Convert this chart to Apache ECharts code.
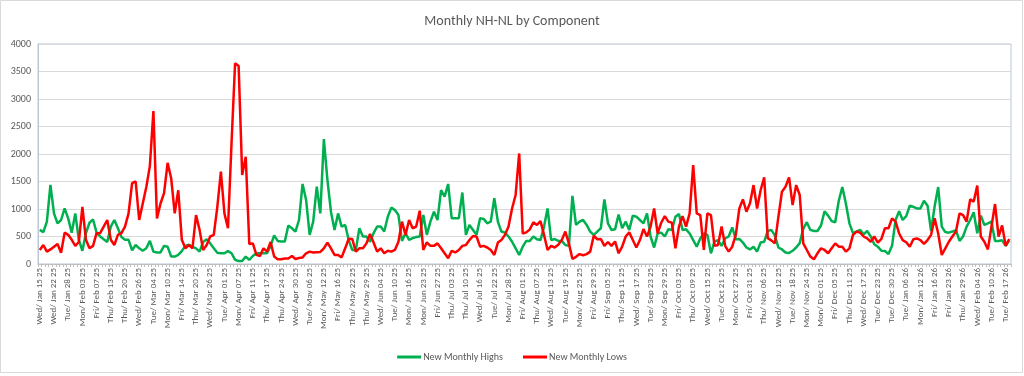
<!DOCTYPE html>
<html>
<head>
<meta charset="utf-8">
<script src="https://cdn.jsdelivr.net/npm/echarts@6/dist/echarts.min.js"></script>
<style>
  html, body { margin: 0; padding: 0; background: #fff; }
  #chart { width: 1024px; height: 376px; }
</style>
</head>
<body>
<div id="chart"></div>
<script>
// trading days shown on the category axis, by month
const tradingDays = [
  ["2025-01", [15,16,17,21,22,23,24,27,28,29,30,31]],
  ["2025-02", [3,4,5,6,7,10,11,12,13,14,18,19,20,21,24,25,26,27,28]],
  ["2025-03", [3,4,5,6,7,10,11,12,13,14,17,18,19,20,21,24,25,26,27,28,31]],
  ["2025-04", [1,2,3,4,7,8,9,10,11,14,15,16,17,21,22,23,24,25,28,29,30]],
  ["2025-05", [1,2,5,6,7,8,9,12,13,14,15,16,19,20,21,22,23,27,28,29,30]],
  ["2025-06", [2,3,4,5,6,9,10,11,12,13,16,17,18,20,23,24,25,26,27,30]],
  ["2025-07", [1,2,3,7,8,9,10,11,14,15,16,17,18,21,22,23,24,25,28,29,30,31]],
  ["2025-08", [1,4,5,6,7,8,11,12,13,14,15,18,19,20,21,22,25,26,27,28,29]],
  ["2025-09", [2,3,4,5,8,9,10,11,12,15,16,17,18,19,22,23,24,25,26,29,30]],
  ["2025-10", [1,2,3,6,7,8,9,10,13,14,15,16,17,20,21,22,23,24,27,28,29,30,31]],
  ["2025-11", [3,4,5,6,7,10,11,12,13,14,17,18,19,20,21,24,25,26,28]],
  ["2025-12", [1,2,3,4,5,8,9,10,11,12,15,16,17,18,19,22,23,24,26,29,30,31]],
  ["2026-01", [2,5,6,7,8,9,12,13,14,15,16,20,21,22,23,26,27,28,29,30]],
  ["2026-02", [2,3,4,5,6,9,10,11,12,13,17,18]]
];

const newHighs = [
  620, 580, 770, 1440, 920, 740, 800, 1010, 830, 570,
  920, 440, 240, 560, 750, 810, 570, 500, 450, 400,
  680, 800, 650, 490, 440, 440, 250, 345, 285, 240,
  285, 420, 225, 210, 210, 330, 315, 135, 135, 165,
  235, 330, 350, 315, 285, 225, 400, 450, 375, 285,
  205, 195, 195, 235, 195, 75, 55, 55, 135, 75,
  145, 195, 195, 195, 195, 330, 520, 420, 410, 410,
  700, 650, 590, 800, 1455, 1165, 530, 770, 1405, 920,
  2270, 1530, 950, 620, 920, 680, 710, 435, 255, 255,
  650, 500, 500, 405, 560, 680, 680, 590, 860, 1025,
  980, 890, 420, 560, 440, 470, 490, 500, 890, 530,
  770, 950, 800, 1345, 1225, 1455, 830, 830, 830, 1300,
  530, 710, 620, 530, 830, 820, 740, 770, 1195, 770,
  590, 570, 500, 405, 285, 165, 315, 420, 420, 500,
  450, 435, 680, 1010, 435, 455, 420, 420, 345, 330,
  1240, 710, 770, 800, 710, 590, 530, 590, 650, 1175,
  740, 620, 630, 900, 650, 770, 620, 880, 860, 800,
  740, 920, 500, 300, 555, 570, 500, 630, 620, 860,
  910, 620, 630, 555, 435, 315, 465, 555, 530, 195,
  405, 435, 330, 465, 500, 665, 450, 455, 390, 300,
  265, 315, 225, 390, 405, 600, 620, 520, 300, 265,
  210, 200, 240, 300, 380, 640, 760, 620, 600, 600,
  700, 960, 880, 780, 760, 1150, 1400, 1100, 740, 560,
  590, 620, 540, 600, 500, 360, 315, 240, 235, 180,
  330, 800, 960, 800, 870, 1060, 1040, 1010, 1010, 1150,
  1060, 600, 1050, 1400, 680, 580, 570, 590, 615, 420,
  500, 680, 800, 940, 560, 880, 710, 740, 770, 420,
  420, 430, 330, 425
];

const newLows = [
  255, 345, 225, 265, 315, 365, 205, 570, 530, 440,
  330, 400, 1040, 440, 285, 330, 560, 560, 680, 800,
  440, 345, 530, 560, 680, 920, 1470, 1500, 800, 1100,
  1400, 1780, 2780, 830, 1100, 1290, 1840, 1560, 920, 1340,
  440, 285, 345, 285, 890, 620, 255, 345, 500, 530,
  1040, 1680, 920, 650, 2200, 3650, 3600, 1620, 1950, 365,
  375, 165, 145, 285, 225, 400, 135, 85, 85, 100,
  100, 145, 90, 110, 120, 195, 225, 210, 215, 220,
  285, 390, 285, 165, 165, 120, 285, 460, 455, 225,
  285, 285, 375, 545, 390, 225, 285, 195, 240, 225,
  255, 405, 770, 530, 800, 650, 680, 970, 255, 395,
  330, 330, 375, 285, 195, 105, 240, 210, 255, 330,
  345, 435, 510, 500, 315, 330, 300, 255, 165, 390,
  435, 530, 680, 1010, 1255, 2010, 555, 575, 630, 760,
  710, 780, 530, 255, 330, 300, 350, 435, 590, 375,
  90, 130, 180, 160, 180, 225, 515, 450, 455, 330,
  400, 330, 410, 195, 315, 500, 575, 435, 300, 435,
  635, 500, 680, 1010, 555, 750, 870, 770, 750, 285,
  680, 870, 680, 920, 1800, 920, 890, 255, 920, 890,
  330, 345, 680, 330, 225, 315, 530, 1010, 1175, 950,
  1105, 1435, 1010, 1345, 1575, 470, 430, 375, 860, 1315,
  1405, 1575, 1070, 1435, 1255, 375, 255, 135, 85, 195,
  285, 255, 195, 285, 375, 315, 315, 225, 285, 530,
  590, 570, 500, 465, 405, 500, 390, 455, 650, 650,
  830, 770, 555, 435, 395, 315, 450, 465, 435, 365,
  435, 530, 830, 555, 165, 285, 405, 500, 590, 920,
  890, 770, 1175, 1135, 1425, 500, 405, 265, 680, 1090,
  500, 700, 330, 455
];

const yTicks = [0, 500, 1000, 1500, 2000, 2500, 3000, 3500, 4000];

const dayNames = ["Sun", "Mon", "Tue", "Wed", "Thu", "Fri", "Sat"];
const monNames = ["Jan", "Feb", "Mar", "Apr", "May", "Jun", "Jul", "Aug", "Sep", "Oct", "Nov", "Dec"];

const categories = [];
tradingDays.forEach(([ym, days]) => {
  const [y, m] = ym.split("-").map(Number);
  days.forEach((d) => {
    const dt = new Date(Date.UTC(y, m - 1, d));
    const dd = String(d).padStart(2, "0");
    categories.push(dayNames[dt.getUTCDay()] + "/ " + monNames[m - 1] + " " + dd + " " + String(y).slice(2));
  });
});

const chart = echarts.init(document.getElementById("chart"));
const font = "Calibri, Carlito, 'Liberation Sans', Arial, sans-serif";

chart.setOption({
  animation: false,
  backgroundColor: "#fff",
  textStyle: { fontFamily: font },
  title: {
    text: "Monthly NH-NL by Component",
    left: "center",
    top: 9,
    textStyle: { fontSize: 14, fontWeight: "normal", color: "#595959", fontFamily: font }
  },
  legend: {
    bottom: 9,
    left: "center",
    icon: "rect",
    itemWidth: 24,
    itemHeight: 3,
    itemGap: 20,
    textStyle: { fontSize: 10, color: "#595959", padding: [0, 0, 0, -3] },
    data: ["New Monthly Highs", "New Monthly Lows"]
  },
  graphic: [{
    type: "rect",
    shape: { x: 0.5, y: 0.5, width: 1022, height: 372 },
    style: { fill: "none", stroke: "#d9d9d9", lineWidth: 1 },
    silent: true
  }],
  grid: {
    left: 38,
    right: 13,
    top: 44,
    bottom: 112,
    show: true,
    borderColor: "#b9c7d8",
    borderWidth: 1
  },
  xAxis: {
    type: "category",
    data: categories,
    boundaryGap: true,
    axisLine: { lineStyle: { color: "#bfbfbf" } },
    axisTick: { show: true, interval: 0, length: 3, lineStyle: { color: "#bfbfbf" } },
    axisLabel: { interval: 3, rotate: 90, fontSize: 9, color: "#595959", margin: 4 }
  },
  yAxis: {
    type: "value",
    min: yTicks[0],
    max: yTicks[yTicks.length - 1],
    interval: 500,
    axisLine: { show: true, lineStyle: { color: "#b9c7d8" } },
    axisTick: { show: false },
    splitLine: { lineStyle: { color: "#d9d9d9" } },
    axisLabel: { fontSize: 10, color: "#595959", margin: 7, formatter: (v) => String(v) }
  },
  series: [
    {
      name: "New Monthly Highs",
      type: "line",
      data: newHighs,
      symbol: "none",
      lineStyle: { color: "#00b050", width: 2.5 },
      itemStyle: { color: "#00b050" }
    },
    {
      name: "New Monthly Lows",
      type: "line",
      data: newLows,
      symbol: "none",
      lineStyle: { color: "#ff0000", width: 2.5 },
      itemStyle: { color: "#ff0000" }
    }
  ]
});
</script>
</body>
</html>
